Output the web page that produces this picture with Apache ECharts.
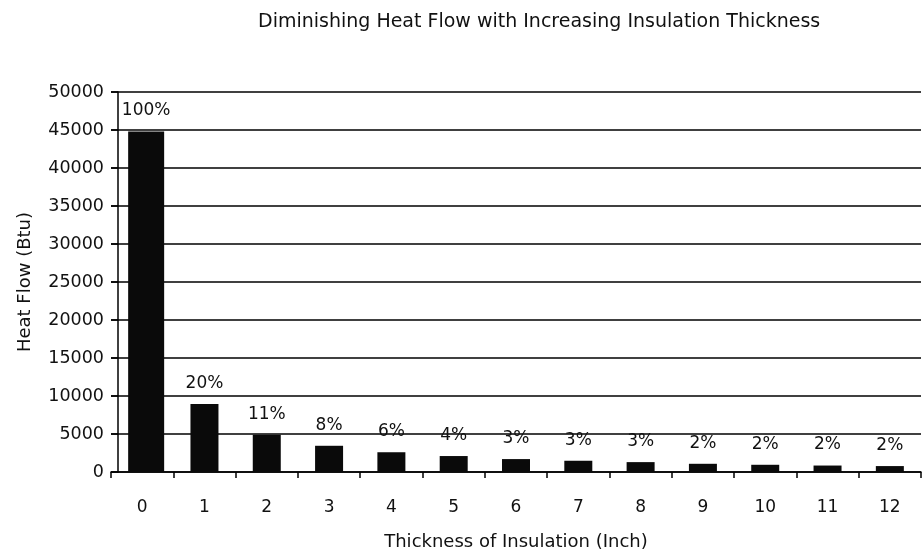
<!DOCTYPE html>
<html><head><meta charset="utf-8">
<script src="https://cdn.jsdelivr.net/npm/echarts@6/dist/echarts.min.js"></script>
<style>html,body{margin:0;padding:0;background:#fff}#c{width:923px;height:551px}</style>
</head><body><div id="c"></div>
<script>
const categories = ['0','1','2','3','4','5','6','7','8','9','10','11','12'];
const heatFlow = [44800, 8960, 4900, 3450, 2600, 2100, 1700, 1480, 1300, 1080, 950, 850, 780];
const percentLabels = ['100%','20%','11%','8%','6%','4%','3%','3%','3%','2%','2%','2%','2%'];
const yTicks = [0,5000,10000,15000,20000,25000,30000,35000,40000,45000,50000];

const font = 'DejaVu Sans, sans-serif';
const labelCfg = {show: true, position: 'top', distance: 12, fontFamily: font, fontSize: 17, color: '#111'};
const firstData = heatFlow.map((v, i) => i === 0 ? {value: v, label: {formatter: percentLabels[i]}} : '-');
const restData = heatFlow.map((v, i) => i === 0 ? '-' : {value: v, label: {formatter: percentLabels[i]}});

const chart = echarts.init(document.getElementById('c'));
chart.setOption({
  animation: false,
  backgroundColor: '#fff',
  title: {
    text: 'Diminishing Heat Flow with Increasing Insulation Thickness',
    left: 253, top: 8,
    textStyle: {fontFamily: font, fontSize: 19, fontWeight: 'normal', color: '#111'}
  },
  grid: {left: 111, right: 2, top: 92, bottom: 79, outerBoundsMode: 'none', containLabel: false},
  xAxis: {
    type: 'category', data: categories,
    name: 'Thickness of Insulation (Inch)', nameLocation: 'middle', nameGap: 61,
    nameTextStyle: {fontFamily: font, fontSize: 18, color: '#111'},
    axisLine: {lineStyle: {color: '#000', width: 1.5}},
    axisTick: {show: true, length: 6, lineStyle: {color: '#000', width: 1.5}},
    axisLabel: {fontFamily: font, fontSize: 17, color: '#111', margin: 27}
  },
  yAxis: {
    type: 'value', min: 0, max: 50000, interval: 5000, offset: -7,
    name: 'Heat Flow (Btu)', nameLocation: 'middle', nameGap: 84,
    nameTextStyle: {fontFamily: font, fontSize: 18, color: '#111'},
    axisLine: {show: true, lineStyle: {color: '#000', width: 1.5}},
    axisTick: {show: true, length: 7, lineStyle: {color: '#000', width: 1.5}},
    axisLabel: {fontFamily: font, fontSize: 17.5, color: '#111', margin: 14,
      formatter: v => yTicks.includes(v) ? String(v) : ''},
    splitLine: {show: true, lineStyle: {color: '#000', width: 1.5}}
  },
  series: [{
    type: 'bar', data: firstData, barWidth: 36, barGap: '-100%',
    itemStyle: {color: '#0a0a0a'}, label: labelCfg
  }, {
    type: 'bar', data: restData, barWidth: 28, barGap: '-100%',
    itemStyle: {color: '#0a0a0a'}, label: labelCfg
  }]
});
</script></body></html>
